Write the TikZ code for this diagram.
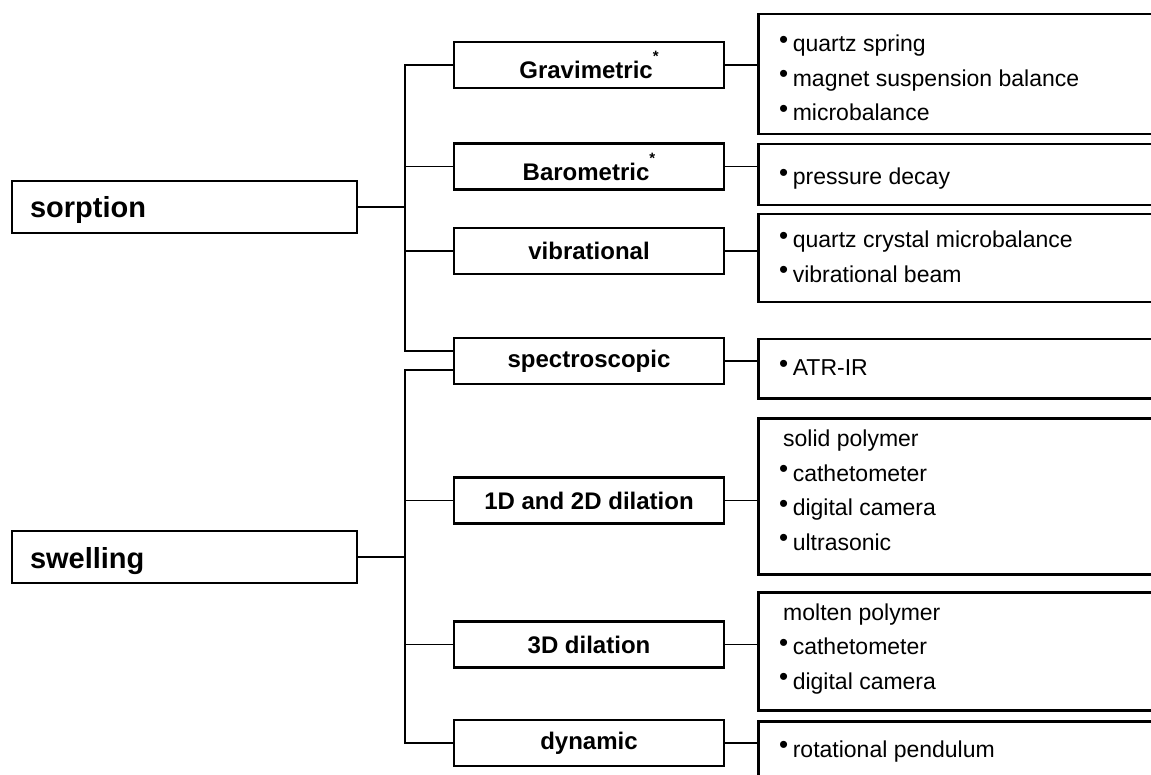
\documentclass[tikz,border=0pt]{standalone}
\usepackage{fontspec}
\setmainfont{Liberation Sans}
\newcommand\bul{\hspace{-3pt}\raisebox{3.5pt}{\fontsize{26}{26}\selectfont\textbullet}\hspace{4.5pt}}
\newcommand\myast{\raisebox{17pt}{\fontsize{15}{15}\selectfont\bfseries *}}
\begin{document}
\begin{tikzpicture}[x=1pt,y=-1pt,
  box/.style={draw, line width=2.5pt, rectangle, inner sep=0pt},
  lbox/.style={box, minimum height=52pt, text width=309pt, inner xsep=18pt, align=left,
    text height=22pt, text depth=0pt, font=\fontsize{29}{34}\selectfont\bfseries},
  mbox/.style={box, minimum width=270pt, minimum height=46pt,
    font=\fontsize{24}{28}\selectfont\bfseries},
  rbox/.style={box, anchor=north west, minimum width=408pt},
  rtext/.style={anchor=base west, inner sep=0pt, font=\fontsize{23}{28}\selectfont},
  link/.style={line width=1.6pt}]
\useasboundingbox (0,0) rectangle (1151,775);
\clip (0,0) rectangle (1151,775);
% left boxes
\node[lbox] (sorp) at (184.5,207) {sorption};
\node[lbox] (swel) at (184.5,557) {swelling};
% middle boxes
\node[mbox] (grav) at (589,65) {Gravimetric\myast};
\node[mbox] (baro) at (589,166.5) {Barometric\myast};
\node[mbox] (vib) at (589,251) {vibrational};
\node[mbox] (spec) at (589,361) {spectroscopic};
\node[mbox] (d12) at (589,500.5) {1D and 2D dilation};
\node[mbox] (d3) at (589,644.5) {3D dilation};
\node[mbox] (dyn) at (589,743) {dynamic};
% right boxes
\node[rbox, minimum height=120pt] (r1) at (757,13) {};
\node[rbox, minimum height=61pt] (r2) at (757,143) {};
\node[rbox, minimum height=88pt] (r3) at (757,213) {};
\node[rbox, minimum height=59pt] (r4) at (757,338) {};
\node[rbox, minimum height=156pt] (r5) at (757,417) {};
\node[rbox, minimum height=118pt] (r6) at (757,591) {};
\node[rbox, minimum height=80pt] (r7) at (757,720) {};
% right texts
\node[rtext] (r1a) at (782,52) {\bul quartz spring};
\node[rtext] (r1b) at (782,86.5) {\bul magnet suspension balance};
\node[rtext] (r1c) at (782,121) {\bul microbalance};
\node[rtext] (r2a) at (782,185) {\bul pressure decay};
\node[rtext] (r3a) at (782,248) {\bul quartz crystal microbalance};
\node[rtext] (r3b) at (782,282.5) {\bul vibrational beam};
\node[rtext] (r4a) at (782,376) {\bul ATR-IR};
\node[rtext] (r5a) at (783,446) {solid polymer};
\node[rtext] (r5b) at (782,481) {\bul cathetometer};
\node[rtext] (r5c) at (782,515.5) {\bul digital camera};
\node[rtext] (r5d) at (782,550) {\bul ultrasonic};
\node[rtext] (r6a) at (783,620) {molten polymer};
\node[rtext] (r6b) at (782,654.5) {\bul cathetometer};
\node[rtext] (r6c) at (782,689) {\bul digital camera};
\node[rtext] (r7a) at (782,757) {\bul rotational pendulum};
% connectors
\coordinate (busx) at (405,0);
\coordinate (specA) at ([yshift=10pt]spec.west);
\coordinate (specB) at ([yshift=-9pt]spec.west);
\draw[link] (sorp.east) -- (sorp.east -| busx);
\draw[link] (grav.west) -| (busx |- specA) -- (specA);
\draw[link] (baro.west) -- (baro.west -| busx);
\draw[link] (vib.west) -- (vib.west -| busx);
\draw[link] (swel.east) -- (swel.east -| busx);
\draw[link] (specB) -| (busx |- dyn.west) -- (dyn.west);
\draw[link] (d12.west) -- (d12.west -| busx);
\draw[link] (d3.west) -- (d3.west -| busx);
\draw[link] (grav.east) -- (grav.east -| r1.west);
\draw[link] (baro.east) -- (baro.east -| r2.west);
\draw[link] (vib.east) -- (vib.east -| r3.west);
\draw[link] (spec.east) -- (spec.east -| r4.west);
\draw[link] (d12.east) -- (d12.east -| r5.west);
\draw[link] (d3.east) -- (d3.east -| r6.west);
\draw[link] (dyn.east) -- (dyn.east -| r7.west);
\end{tikzpicture}
\end{document}
